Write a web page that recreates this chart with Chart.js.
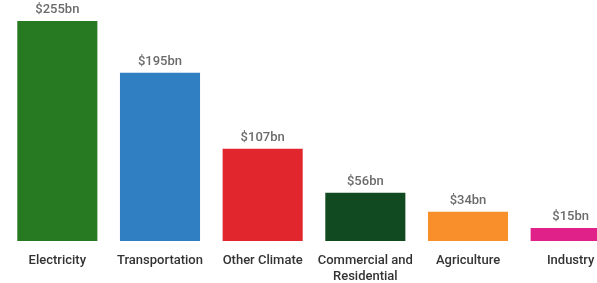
<!DOCTYPE html>
<html>
<head>
<meta charset="utf-8">
<script src="https://cdn.jsdelivr.net/npm/chart.js@4/dist/chart.umd.min.js"></script>
<style>
  html, body { margin: 0; padding: 0; background: #fff; overflow: hidden; }
  #wrap { width: 622px; height: 283px; }
</style>
</head>
<body>
<div id="wrap"><canvas id="myChart" width="622" height="283"></canvas></div>
<script>
// categories and values (billions of dollars)
const categories = [
  "Electricity",
  "Transportation",
  "Other Climate",
  ["Commercial and", "Residential"],
  "Agriculture",
  "Industry",
];
const values = [255, 195, 107, 56, 34, 15];
const valueLabels = ["$255bn", "$195bn", "$107bn", "$56bn", "$34bn", "$15bn"];
const barColors = ["#277a22", "#2f7fc2", "#e1262d", "#114a21", "#f98f2b", "#e0218a"];

// draw the value text above each bar
const valueLabelPlugin = {
  id: "valueLabels",
  afterDatasetsDraw(chart) {
    const ctx = chart.ctx;
    const meta = chart.getDatasetMeta(0);
    ctx.save();
    ctx.font = "500 13px Roboto";
    ctx.fillStyle = "#6b6b6b";
    ctx.textAlign = "center";
    ctx.textBaseline = "middle";
    meta.data.forEach((bar, i) => {
      const p = bar.getProps(["x", "y"], true);
      ctx.fillText(valueLabels[i], p.x, p.y - 11);
    });
    ctx.restore();
  },
};

let ctx = document.getElementById("myChart").getContext("2d");
let chart = new Chart(ctx, {
  type: "bar",
  data: {
    labels: categories,
    datasets: [
      {
        data: values,
        backgroundColor: barColors,
        categoryPercentage: 1,
        barPercentage: 0.78,
      },
    ],
  },
  options: {
    responsive: false,
    animation: false,
    layout: { padding: { top: 21, left: 6, right: 0, bottom: 0 } },
    plugins: { legend: { display: false }, tooltip: { enabled: false } },
    scales: {
      y: { display: false, min: 0, max: 255 },
      x: {
        grid: { display: false },
        border: { display: false },
        ticks: {
          color: "#333",
          font: { family: "Roboto", size: 13, weight: "500", lineHeight: 1.2 },
          padding: 4,
          maxRotation: 0,
          autoSkip: false,
        },
        afterFit(scale) {
          scale.height = 42;
        },
      },
    },
  },
  plugins: [valueLabelPlugin],
});
</script>
</body>
</html>
